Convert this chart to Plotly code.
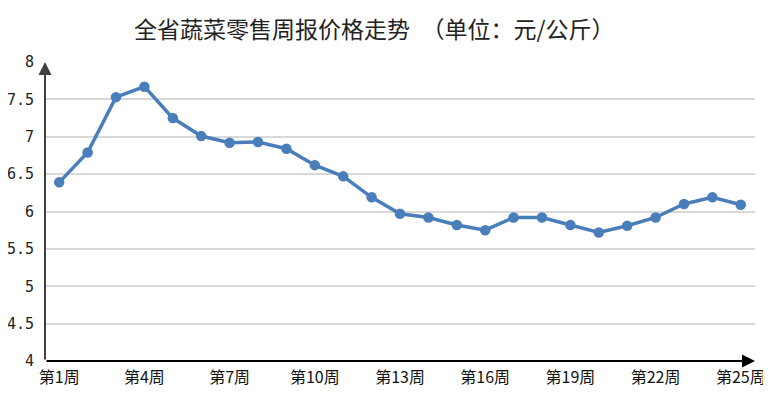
import plotly.graph_objects as go

weeks = [f"第{i}周" for i in range(1, 26)]
prices = [6.39, 6.79, 7.53, 7.67, 7.25, 7.01, 6.92, 6.93, 6.84, 6.62,
          6.47, 6.19, 5.97, 5.92, 5.82, 5.75, 5.92, 5.92, 5.82, 5.72,
          5.81, 5.92, 6.10, 6.19, 6.09]
tick_weeks = weeks[::3]
y_ticks = [4, 4.5, 5, 5.5, 6, 6.5, 7, 7.5, 8]
y_ticktext = ["4", "4.5", "5", "5.5", "6", "6.5", "7", "7.5", "8"]
title_text = "全省蔬菜零售周报价格走势\u3000（单位：元/公斤）"

blue = "#4a7ebb"

fig = go.Figure()
fig.add_trace(go.Scatter(
    x=weeks, y=prices, mode="lines+markers",
    line=dict(color=blue, width=3.5),
    marker=dict(color=blue, size=10.5),
    hoverinfo="x+y", showlegend=False,
))

# page body has an 8px margin, so the figure is 763x388 at offset (8, 8)
fig.update_layout(
    width=763, height=388,
    margin=dict(l=37, r=16, t=54, b=35, autoexpand=False),
    paper_bgcolor="white", plot_bgcolor="white",
    title=dict(text=title_text, x=0.48, xanchor="center", y=0.943, yanchor="middle",
               font=dict(family="Noto Sans CJK SC", size=23, color="#222222")),
    xaxis=dict(type="category", range=[-0.5, 24.5], tickmode="array",
               tickvals=tick_weeks, ticktext=tick_weeks, automargin=False,
               showgrid=False, showline=False, zeroline=False,
               ticks="", ticklabelstandoff=5,
               tickfont=dict(family="Noto Sans CJK SC", size=16, color="#111111")),
    yaxis=dict(range=[4, 8], tickmode="array", tickvals=y_ticks, ticktext=y_ticktext,
               automargin=False,
               showgrid=True, gridcolor="#d9d9d9", gridwidth=1.5,
               showline=False, zeroline=False, ticks="", ticklabelstandoff=10,
               tickfont=dict(family="DejaVu Sans Mono", size=15, color="#222222")),
)

# axis lines with arrowheads
fig.add_annotation(x=0, y=1, xref="paper", yref="paper", ax=0, ay=299,
                   axref="pixel", ayref="pixel", text="", showarrow=True,
                   arrowhead=2, arrowsize=1.3, arrowwidth=2, arrowcolor="#404040")
fig.add_annotation(x=1, y=0, xref="paper", yref="paper", ax=-710, ay=0,
                   axref="pixel", ayref="pixel", text="", showarrow=True,
                   arrowhead=2, arrowsize=1.3, arrowwidth=2, arrowcolor="#000000")

fig.write_html("out.html")
